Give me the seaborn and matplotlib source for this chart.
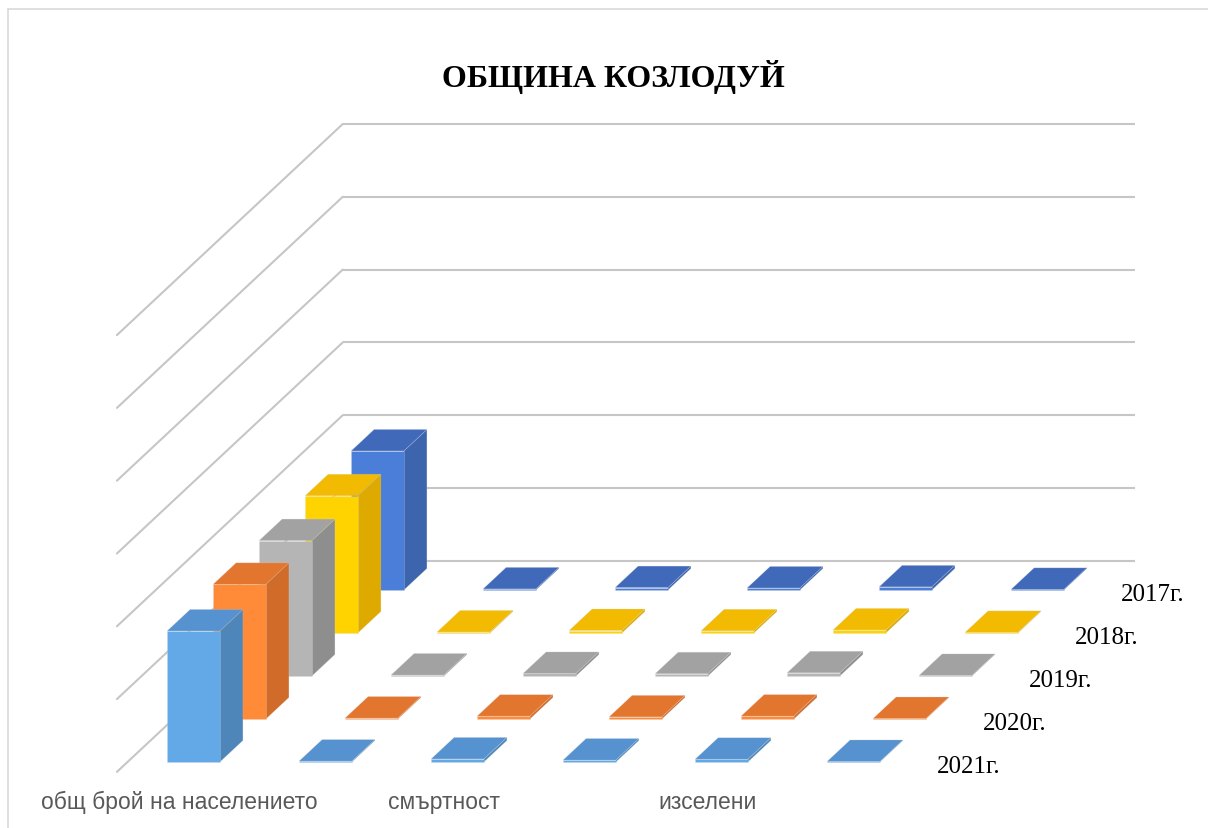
import matplotlib
matplotlib.use("Agg")
import matplotlib.pyplot as plt
from matplotlib.transforms import Affine2D, offset_copy
from matplotlib.patches import Rectangle
import seaborn as sns

# данни
categories = ["общ брой на населението", "раждаемост", "смъртност",
              "заселени", "изселени", "бракове"]
shown_labels = ["общ брой на населението", "", "смъртност", "", "изселени", ""]
years = ["2017г.", "2018г.", "2019г.", "2020г.", "2021г."]

v2017 = [19100, 150, 330, 280, 430, 90]
v2018 = [18850, 145, 340, 300, 420, 85]
v2019 = [18600, 140, 350, 310, 440, 80]
v2020 = [18500, 130, 390, 290, 400, 70]
v2021 = [18000, 125, 420, 270, 380, 75]
values = [v2017, v2018, v2019, v2020, v2021]

front_colors = ["#4A7ED8", "#FFD300", "#B5B5B5", "#FF8A38", "#63A9E8"]
side_colors = ["#3D65AD", "#DFAA00", "#8E8E8E", "#D06B2A", "#4E86BA"]
top_colors = ["#4169BA", "#F2BA00", "#A2A2A2", "#E3762E", "#5592CF"]

grid_vals = list(range(0, 60001, 10000))

sns.set_style("white")
plt.rcParams["font.family"] = ["Liberation Sans Narrow", "Liberation Sans", "DejaVu Sans"]

W, H = 1208, 829
fig = plt.figure(figsize=(W / 100, H / 100), dpi=100)
ax = fig.add_axes([0, 0, 1, 1])
ax.set_axis_off()

# наклонена (обликвна) проекция: пиксели на единица
px_cat = 132.0
px_val = 72.8 / 10000
row_dx = 46 / px_cat
row_dy = 43 / px_val
bar_w = 0.4
bar_d = 0.5
d_front, d_back = -0.18, 4.68
n = len(categories)

ax.set_xlim(-193.5 / px_cat, (W - 193.5) / px_cat)
ax.set_ylim(-66 / px_val, (H - 66) / px_val)


def row_tr(d):
    return Affine2D().translate(d * row_dx, d * row_dy) + ax.transData


# стени с мрежа
grid_color = "#C6C6C6"
ax.hlines(grid_vals, -0.5, n - 0.5, colors=grid_color, lw=1.5,
          transform=row_tr(d_back), zorder=0)
left_tr = Affine2D.from_values(row_dx, row_dy, 0, 1, -0.5, 0) + ax.transData
for g in grid_vals:
    ax.plot([d_front - 0.05, d_back], [g, g], color=grid_color, lw=1.5,
            transform=left_tr, zorder=0)

# колони, от задния ред към предния
cat_pos = list(range(n))
n_rows = len(years)
for r, (vals, fc, sc, tc) in enumerate(zip(values, front_colors, side_colors, top_colors)):
    d = n_rows - 1 - r
    z = 10 + r
    for i, v in enumerate(vals):
        xr = i + bar_w / 2
        side_tr = Affine2D.from_values(bar_d * row_dx, bar_d * row_dy, 0, 1,
                                       xr + d * row_dx, d * row_dy) + ax.transData
        ax.bar(0, v, width=1, align="edge", color=sc, transform=side_tr,
               zorder=z + 0.1, edgecolor=(0.85, 0.85, 0.85, 0.25), linewidth=0.5)
        top_tr = Affine2D.from_values(1, 0, bar_d * row_dx, bar_d * row_dy,
                                      d * row_dx, v + d * row_dy) + ax.transData
        ax.bar(i, 1, width=bar_w, color=tc, transform=top_tr,
               zorder=z + 0.2, edgecolor=(0.85, 0.85, 0.85, 0.3), linewidth=0.5)
    sns.barplot(x=cat_pos, y=vals, native_scale=True, width=bar_w, color=fc,
                saturation=1, errorbar=None, transform=row_tr(d), ax=ax,
                zorder=z + 0.3, edgecolor=(0.85, 0.85, 0.85, 0.3), linewidth=0.5)

    lab_tr = offset_copy(row_tr(d), fig=fig, x=17, y=-10, units="dots")
    ax.text(n - 0.5, 0, years[r], transform=lab_tr, ha="left", va="baseline",
            fontsize=18, family=["Liberation Serif"], color="black")

# подписи на категориите
cat_tr = offset_copy(row_tr(-0.3), fig=fig, x=0, y=-27, units="dots")
for i, lab in enumerate(shown_labels):
    ax.text(i, 0, lab, transform=cat_tr, ha="center", va="center",
            fontsize=16.5, color="#595959")

ax.set_xlim(-193.5 / px_cat, (W - 193.5) / px_cat)
ax.set_ylim(-66 / px_val, (H - 66) / px_val)
ax.set_axis_off()

fig.text(613.5 / W, 1 - 87 / H, "ОБЩИНА КОЗЛОДУЙ", ha="center", va="baseline",
         fontsize=23, fontweight="bold", family=["Liberation Serif"], color="black")

fig.add_artist(Rectangle((8 / W, -0.1), 1.2, 1.1 - 10 / H, transform=fig.transFigure,
                         fill=False, edgecolor="#D9D9D9", lw=1.2))

fig.savefig("out.png", dpi=100)
